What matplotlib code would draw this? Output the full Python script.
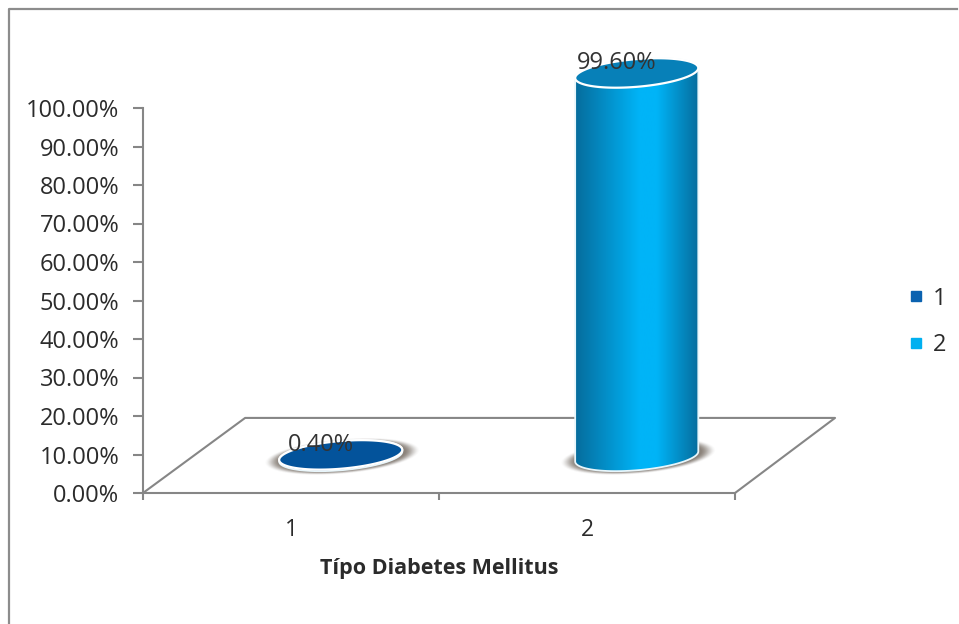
import numpy as np
from matplotlib import pyplot as plt
from matplotlib.colors import LinearSegmentedColormap
from matplotlib.lines import Line2D
from matplotlib.patches import Patch, Polygon
from matplotlib.transforms import ScaledTranslation

categories = [1, 2]
labels = ["0.40%", "99.60%"]
values = [0.40, 99.60]
body_colors = [["#034a80", "#0a62a8", "#034a80"], ["#066c9c", "#00b4f7", "#066c9c"]]
top_colors = ["#03539b", "#0780b8"]
legend_colors = ["#0a62b0", "#00b0f0"]
y_ticks = [0, 10, 20, 30, 40, 50, 60, 70, 80, 90, 100]

FLOOR_Y = 9.5      # centre line of the floor, in axis units
DEPTH_X = 0.168    # sideways shift of the bars on the floor
RX, RY, SHEAR = 0.208, 3.6, 1.3

plt.rcParams["font.family"] = ["Open Sans", "DejaVu Sans"]
GREY = "#868686"
TEXT = "#2b2b2b"

fig = plt.figure(figsize=(9.59, 6.24), dpi=100)
ax = fig.add_axes([143 / 959, 1 - 493 / 624, 592 / 959, 385 / 624])
ax.set_xlim(0.5, 2.5)
ax.set_ylim(0, 100)


def ellipse(cx, cy, scale=1.0):
    """Outline of a flat disc seen in perspective (right side raised)."""
    t = np.linspace(0, 2 * np.pi, 160)
    x = cx + scale * RX * np.cos(t)
    y = cy + scale * RY * np.sin(t) + scale * SHEAR * np.cos(t)
    return np.column_stack([x, y])


def draw_cylinder(cat, value, colors, top_color):
    cx = cat + DEPTH_X
    y0 = FLOOR_Y
    y1 = FLOOR_Y + value

    # soft shadow under the base
    for s, a in zip(np.linspace(1.25, 1.03, 16), np.linspace(0.02, 0.2, 16)):
        ax.add_patch(Polygon(ellipse(cx + 0.005, y0, s), closed=True, fc="#7a7067", ec="none",
                             alpha=a, zorder=2, clip_on=False))

    # body: front half of the base, back up along the top disc
    base = ellipse(cx, y0)
    top = ellipse(cx, y1)
    outline = np.vstack([base[80:], top[:80]])
    body = Polygon(outline, closed=True, fc="none", ec="#e8f6fb", lw=1.3, zorder=4, clip_on=False)
    ax.add_patch(body)

    cmap = LinearSegmentedColormap.from_list("body", [(0, colors[0]), (0.52, colors[1]),
                                                      (0.66, colors[1]), (1, colors[2])])
    grad = np.linspace(0, 1, 256).reshape(1, -1)
    im = ax.imshow(grad, cmap=cmap, aspect="auto", zorder=3, interpolation="bilinear",
                   extent=[cx - RX, cx + RX, y0 - RY - SHEAR, y1 + RY + SHEAR])
    im.set_clip_box(fig.bbox)
    im.set_clip_path(body)

    ax.add_patch(Polygon(top, closed=True, fc=top_color, ec="white", lw=1.6, zorder=5, clip_on=False))


# floor outline behind the bars
floor_x = [0.5, 0.845, 2.838, 2.5]
floor_y = [0, 19.5, 19.5, 0]
ax.add_line(Line2D(floor_x, floor_y, color=GREY, lw=1.5, clip_on=False, zorder=1))

for cat, val, cols, tc in zip(categories, values, body_colors, top_colors):
    draw_cylinder(cat, val, cols, tc)

for cat, val, lab in zip(categories, values, labels):
    ax.text(cat + DEPTH_X - 0.068, FLOOR_Y + val + 2.5, lab, ha="center", va="center",
            fontsize=17, color="#333333", zorder=6)

ax.set_xlim(0.5, 2.5)
ax.set_ylim(0, 100)

ax.set_yticks(y_ticks)
ax.set_yticklabels(["%.2f%%" % v for v in y_ticks], fontsize=17, color=TEXT)
# the percentages sit slightly under their tick marks
shift = ScaledTranslation(0, -4 / 100, fig.dpi_scale_trans)
for tl in ax.get_yticklabels():
    tl.set_transform(tl.get_transform() + shift)
ax.set_xticks([0.5, 1.5, 2.5])
ax.set_xticklabels([])
ax.set_xticks(categories, minor=True)
ax.set_xticklabels([str(c) for c in categories], minor=True, fontsize=16.5, color=TEXT)
ax.tick_params(axis="x", which="minor", length=0, pad=18)
ax.tick_params(axis="x", which="major", length=5, width=1.5, color=GREY)
ax.tick_params(axis="y", length=7, width=1.5, color=GREY, pad=10)
ax.set_xlabel("Típo Diabetes Mellitus", fontsize=15.5, fontweight="bold", color=TEXT, labelpad=11.5)

for side in ["top", "right"]:
    ax.spines[side].set_visible(False)
for side in ["left", "bottom"]:
    ax.spines[side].set_color(GREY)
    ax.spines[side].set_linewidth(1.5)

handles = [Patch(color=c, label=str(k)) for c, k in zip(legend_colors, categories)]
fig.legend(handles=handles, loc="center left", bbox_to_anchor=(911 / 959, 1 - 322 / 624),
           frameon=False, fontsize=17, labelcolor=TEXT, handlelength=0.44, handleheight=0.3,
           handletextpad=0.48, labelspacing=0.97, borderpad=0, borderaxespad=0)

# frame around the chart, open at the right and the bottom
fig.add_artist(Line2D([8.5 / 959, 8.5 / 959, 957 / 959], [0, 1 - 9 / 624, 1 - 9 / 624],
                      color="#8c8c8c", lw=1.6))

fig.savefig("out.png", dpi=100)
